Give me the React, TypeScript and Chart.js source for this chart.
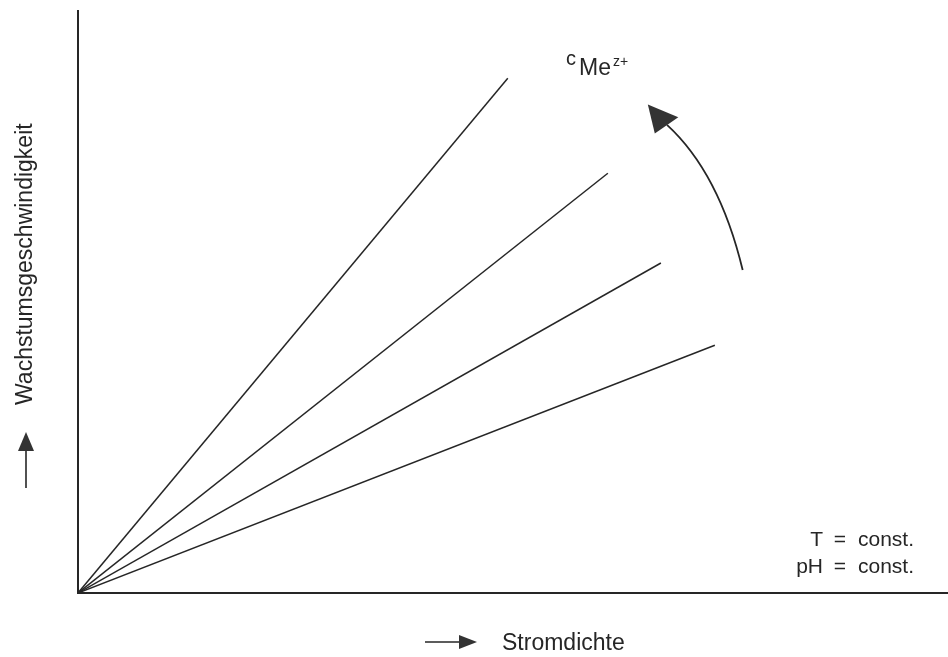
import React, { useEffect, useRef } from "react";
import { Chart, registerables } from "chart.js";
Chart.register(...registerables);

// Data (arbitrary units, 0..100 on both axes)
const seriesLabels = ["c1", "c2", "c3", "c4"];
const endX = [49.4, 60.9, 67.0, 73.2];
const endY = [88.3, 72.0, 56.6, 42.5];
const xTitle = "Stromdichte";
const yTitle = "Wachstumsgeschwindigkeit";
const condT = ["T", "=", "const."];
const condPH = ["pH", "=", "const."];
const concLabel = ["c", "Me", "z+"];

const FONT = '"Liberation Sans", Arial, sans-serif';
const INK = "#262626";

export default function App() {
  const ref = useRef<HTMLCanvasElement>(null);
  useEffect(() => {
    if (!ref.current) return;
    const decor = {
      id: "decor",
      afterDraw(chart: any) {
        const { ctx, scales } = chart;
        const xs = scales.x, ys = scales.y;
        const X = (v: number) => xs.getPixelForValue(v);
        const Y = (v: number) => ys.getPixelForValue(v);
        ctx.save();
        // axes
        ctx.strokeStyle = INK;
        ctx.lineWidth = 2;
        ctx.beginPath();
        ctx.moveTo(X(0), Y(100));
        ctx.lineTo(X(0), Y(0));
        ctx.lineTo(X(100), Y(0));
        ctx.stroke();

        // curved arrow (concentration increases)
        const p0 = [X(76.4), Y(55.4)];
        const c = [X(73.7), Y(72.1)];
        const p2 = [X(67.7), Y(80.3)];
        ctx.lineWidth = 1.8;
        ctx.beginPath();
        ctx.moveTo(p0[0], p0[1]);
        ctx.quadraticCurveTo(c[0], c[1], p2[0], p2[1]);
        ctx.stroke();
        ctx.fillStyle = "#333";
        ctx.beginPath();
        ctx.moveTo(X(65.5), Y(83.8));
        ctx.lineTo(X(69.0), Y(81.6));
        ctx.lineTo(X(66.3), Y(78.8));
        ctx.closePath();
        ctx.fill();

        // concentration label
        ctx.fillStyle = INK;
        ctx.textBaseline = "alphabetic";
        ctx.textAlign = "left";
        ctx.font = `20px ${FONT}`;
        ctx.fillText(concLabel[0], 566, 65);
        ctx.font = `23px ${FONT}`;
        ctx.fillText(concLabel[1], 579, 75);
        ctx.font = `14px ${FONT}`;
        ctx.fillText(concLabel[2], 613, 66);

        // conditions
        ctx.font = `21px ${FONT}`;
        const rows: [string[], number][] = [[condT, 546], [condPH, 573]];
        for (const [r, by] of rows) {
          ctx.textAlign = "right";
          ctx.fillText(r[0], 823, by);
          ctx.textAlign = "center";
          ctx.fillText(r[1], 840, by);
          ctx.textAlign = "left";
          ctx.fillText(r[2], 858, by);
        }

        // x title with arrow
        ctx.font = `23px ${FONT}`;
        ctx.textAlign = "left";
        ctx.fillText(xTitle, 502, 650);
        ctx.lineWidth = 1.6;
        ctx.beginPath();
        ctx.moveTo(425, 642);
        ctx.lineTo(462, 642);
        ctx.stroke();
        ctx.fillStyle = "#333";
        ctx.beginPath();
        ctx.moveTo(477, 642);
        ctx.lineTo(459, 635);
        ctx.lineTo(459, 649);
        ctx.closePath();
        ctx.fill();

        // y title with arrow
        ctx.fillStyle = INK;
        ctx.save();
        ctx.translate(32, 405);
        ctx.rotate(-Math.PI / 2);
        ctx.textAlign = "left";
        ctx.fillText(yTitle, 0, 0);
        ctx.restore();
        ctx.beginPath();
        ctx.moveTo(26, 488);
        ctx.lineTo(26, 448);
        ctx.stroke();
        ctx.fillStyle = "#333";
        ctx.beginPath();
        ctx.moveTo(26, 432);
        ctx.lineTo(18, 451);
        ctx.lineTo(34, 451);
        ctx.closePath();
        ctx.fill();
        ctx.restore();
      },
    };

    const chart = new Chart(ref.current, {
      type: "scatter",
      data: {
        datasets: seriesLabels.map((lab, i) => ({
          label: lab,
          data: [
            { x: 0, y: 0 },
            { x: endX[i], y: endY[i] },
          ],
          showLine: true,
          borderColor: INK,
          borderWidth: 1.5,
          pointRadius: 0,
          fill: false,
        })),
      },
      options: {
        responsive: false,
        animation: false,
        layout: { padding: { left: 78, top: 10, right: 0, bottom: 64 } },
        plugins: { legend: { display: false }, tooltip: { enabled: false } },
        scales: {
          x: { type: "linear", min: 0, max: 100, display: false },
          y: { type: "linear", min: 0, max: 100, display: false },
        },
      },
      plugins: [decor],
    });
    return () => chart.destroy();
  }, []);
  return (
    <div style={{ position: "absolute", left: 0, top: 0, width: 948, height: 657, background: "#fff" }}>
      <canvas ref={ref} width={948} height={657} />
    </div>
  );
}
